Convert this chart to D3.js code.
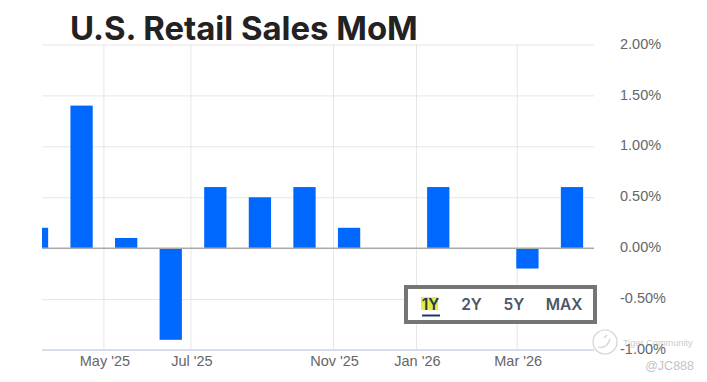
<!DOCTYPE html>
<html>
<head>
<meta charset="utf-8">
<script src="https://cdn.jsdelivr.net/npm/d3@7"></script>
<style>
  html, body { margin: 0; padding: 0; background: #fff; }
  svg { display: block; }
</style>
</head>
<body>
<svg id="chart" width="707" height="382"></svg>
<script>
// Monthly change in %, one bar per month
const months = ["Mar '25", "Apr '25", "May '25", "Jun '25", "Jul '25", "Aug '25", "Sep '25", "Oct '25", "Nov '25", "Dec '25", "Jan '26", "Feb '26", "Mar '26"];
const values = [0.2, 1.4, 0.1, -0.9, 0.6, 0.5, 0.6, 0.2, 0, 0.6, 0, -0.2, 0.6];

// Axis ticks, x ticks sit at these bar positions
const yTicks = [2, 1.5, 1, 0.5, 0, -0.5, -1];
const xTickLabels = ["May '25", "Jul '25", "Nov '25", "Jan '26", "Mar '26"];
const xTickPositions = [1.49, 3.44, 6.64, 8.5, 10.76];

const rangeButtons = ["1Y", "2Y", "5Y", "MAX"];

const svg = d3.select("#chart");
const plotLeft = 42, plotRight = 594, plotTop = 44.5, plotBottom = 350;

const xPos = d3.scaleLinear().domain([0, 12]).range([37, 572]);
const barWidth = (xPos(1) - xPos(0)) * 0.5;
const y = d3.scaleLinear().domain([-1, 2]).range([plotBottom, plotTop]);

svg.append("defs").append("clipPath")
    .attr("id", "plot-clip")
    .append("rect")
    .attr("x", plotLeft)
    .attr("y", plotTop)
    .attr("width", plotRight - plotLeft)
    .attr("height", plotBottom - plotTop);

// Vertical grid and x labels
const xAxis = d3.axisBottom(xPos)
    .tickValues(xTickPositions)
    .tickSize(-(plotBottom - plotTop))
    .tickPadding(6)
    .tickFormat((d, i) => xTickLabels[i]);

const xG = svg.append("g")
    .attr("transform", `translate(0, ${plotBottom})`)
    .call(xAxis);
xG.select(".domain").remove();
xG.selectAll("line").attr("stroke", "#e6e6e6");
xG.selectAll("text")
    .attr("fill", "#666")
    .attr("dx", 1)
    .style("font-family", "'Liberation Sans', Arial, sans-serif")
    .style("font-size", "14.5px");

// Horizontal grid and y labels, plain hyphen on the negatives
const yAxis = d3.axisRight(y)
    .tickValues(yTicks)
    .tickSize(-(plotRight - plotLeft))
    .tickPadding(26)
    .tickFormat(d => d.toFixed(2) + "%");

const yG = svg.append("g")
    .attr("transform", `translate(${plotRight}, 0)`)
    .call(yAxis);
yG.select(".domain").remove();
yG.selectAll("line").attr("stroke", "#e6e6e6");
yG.selectAll("text")
    .attr("fill", "#666")
    .attr("dy", "0.25em")
    .style("font-family", "'Liberation Sans', Arial, sans-serif")
    .style("font-size", "14.5px");

// Bars
svg.append("g")
    .attr("clip-path", "url(#plot-clip)")
    .selectAll("rect")
    .data(values)
    .join("rect")
    .attr("x", (d, i) => xPos(i) - barWidth / 2)
    .attr("y", d => y(Math.max(d, 0)))
    .attr("width", barWidth)
    .attr("height", d => Math.abs(y(d) - y(0)))
    .attr("fill", "#0068ff");

// Zero line and bottom axis line
svg.append("line")
    .attr("x1", plotLeft).attr("x2", plotRight)
    .attr("y1", y(0)).attr("y2", y(0))
    .attr("stroke", "#aaa")
    .attr("stroke-width", 1.5);

svg.append("line")
    .attr("x1", plotLeft).attr("x2", plotRight)
    .attr("y1", plotBottom).attr("y2", plotBottom)
    .attr("stroke", "#ccd6eb")
    .attr("stroke-width", 1.5);

// Title
svg.append("text")
    .attr("x", 70)
    .attr("y", 40)
    .attr("fill", "#222")
    .style("font-family", "Inter, sans-serif")
    .style("font-weight", 700)
    .style("font-size", "32.9px")
    .text("U.S. Retail Sales MoM");

// Range selector box
svg.append("rect")
    .attr("x", 406)
    .attr("y", 287)
    .attr("width", 189)
    .attr("height", 35)
    .attr("fill", "#fff")
    .attr("stroke", "#757575")
    .attr("stroke-width", 4);

const buttonX = d3.scaleOrdinal().domain(rangeButtons).range([430.5, 471.5, 514, 564]);

svg.append("rect")
    .attr("x", 421)
    .attr("y", 297)
    .attr("width", 17)
    .attr("height", 13)
    .attr("fill", "#e6ee3a");

svg.append("g")
    .selectAll("text")
    .data(rangeButtons)
    .join("text")
    .attr("x", d => buttonX(d))
    .attr("y", 310)
    .attr("text-anchor", "middle")
    .attr("fill", (d, i) => i === 0 ? "#1c3a5e" : "#4e5564")
    .style("font-family", "Inter, sans-serif")
    .style("font-weight", 600)
    .style("font-size", "15.5px")
    .text(d => d);

svg.append("line")
    .attr("x1", 422).attr("x2", 440)
    .attr("y1", 315.5).attr("y2", 315.5)
    .attr("stroke", "#1c3a5e")
    .attr("stroke-width", 2);

// Watermark
const mark = svg.append("g").attr("opacity", 0.5);
mark.append("circle")
    .attr("cx", 605).attr("cy", 342).attr("r", 12)
    .attr("fill", "none").attr("stroke", "#aaa").attr("stroke-width", 1.2);
mark.append("path")
    .attr("d", "M598 347 Q607 349 610 339 M604 338 L607 335")
    .attr("fill", "none").attr("stroke", "#aaa").attr("stroke-width", 1.2);
mark.append("text")
    .attr("x", 623).attr("y", 346)
    .attr("fill", "#999")
    .style("font-family", "'Liberation Sans', Arial, sans-serif")
    .style("font-size", "9.2px")
    .text("Tiger Community");
mark.append("text")
    .attr("x", 694).attr("y", 370)
    .attr("text-anchor", "end")
    .attr("fill", "#888")
    .style("font-family", "'Liberation Sans', Arial, sans-serif")
    .style("font-size", "12.5px")
    .text("@JC888");
</script>
</body>
</html>
